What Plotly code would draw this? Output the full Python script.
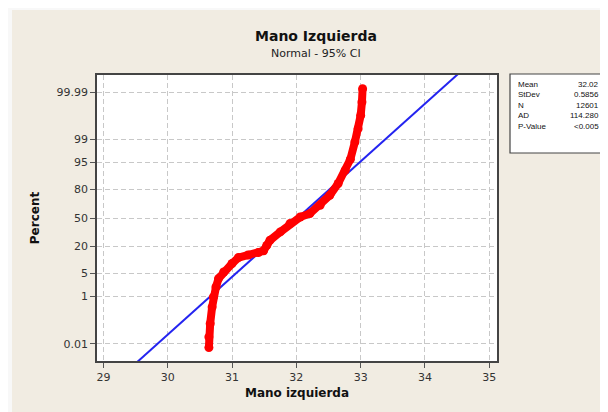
import plotly.graph_objects as go
from statistics import NormalDist

# ---- data ----
sample_x = [30.64, 30.64, 30.66, 30.69, 30.71, 30.75, 30.79, 30.87, 31.00, 31.10,
            31.25, 31.41, 31.49, 31.54, 31.59, 31.75, 31.90, 32.06, 32.21, 32.37,
            32.52, 32.65, 32.76, 32.84, 32.91, 32.96, 33.00, 33.02, 33.03]
sample_pct = [0.0063, 0.0216, 0.089, 0.42, 0.97, 2.06, 3.65, 5.5, 8.9, 12.1,
              13.7, 15.3, 16.6, 20.9, 25.5, 34, 43.4, 51.2, 55.2, 64.6,
              74.9, 84.6, 92.1, 95.9, 98.77, 99.59, 99.88, 99.97, 99.9935]
fit_mean = 32.02
fit_sd = 0.5856
fit_pct = [0.001, 99.999]

y_tick_pct = [0.01, 1, 5, 20, 50, 80, 95, 99, 99.99]
y_tick_text = ["0.01", "1", "5", "20", "50", "80", "95", "99", "99.99"]
x_tick_vals = [29, 30, 31, 32, 33, 34, 35]

stat_labels = ["Mean", "StDev", "N", "AD", "P-Value"]
stat_values = ["32.02", "0.5856", "12601", "114.280", "<0.005"]

nd = NormalDist()
def z(p):
    return nd.inv_cdf(p / 100.0)

sample_z = [z(p) for p in sample_pct]
fit_z = [z(p) for p in fit_pct]
fit_x = [fit_mean + fit_sd * zz for zz in fit_z]

# page body has an 8px margin; figure sits at (8, 8) in the window
OFF = 8
W, H = 600, 404
ML, MR, MT, MB = 89, 111, 67, 51
PW, PH = W - ML - MR, H - MT - MB
def pxx(px):
    return (px - OFF - ML) / PW
def pxy(py):
    return (H - MB - (py - OFF)) / PH

FONT = "DejaVu Sans"
BG = "#F1ECE2"

fig = go.Figure()
fig.add_trace(go.Scatter(x=fit_x, y=fit_z, mode="lines",
                         line=dict(color="#2424F0", width=2),
                         hoverinfo="skip", showlegend=False))
fig.add_trace(go.Scatter(x=sample_x, y=sample_z, mode="lines+markers",
                         line=dict(color="#FF0000", width=8),
                         marker=dict(color="#FF0000", size=9),
                         showlegend=False))

shapes = [
    # light margin strips (top and left)
    dict(type="rect", xref="paper", yref="paper", x0=pxx(0), x1=pxx(700), y0=pxy(10), y1=pxy(0),
         fillcolor="#F8F8F8", line=dict(width=0), layer="above"),
    dict(type="rect", xref="paper", yref="paper", x0=pxx(0), x1=pxx(12), y0=pxy(500), y1=pxy(0),
         fillcolor="#F8F8F8", line=dict(width=0), layer="above"),
    # stats box
    dict(type="rect", xref="paper", yref="paper", x0=pxx(510), x1=pxx(606), y0=pxy(153), y1=pxy(74),
         fillcolor="white", line=dict(color="#444444", width=1.2), layer="above"),
]

annotations = [
    dict(text="<b>Mano Izquierda</b>", xref="paper", yref="paper", x=pxx(316), y=pxy(36),
         showarrow=False, font=dict(family=FONT, size=14, color="#111111"), xanchor="center", yanchor="middle"),
    dict(text="Normal - 95% CI", xref="paper", yref="paper", x=pxx(316), y=pxy(53),
         showarrow=False, font=dict(family=FONT, size=11, color="#222222"), xanchor="center", yanchor="middle"),
]
row_y = [84, 94.5, 105, 115.5, 126]
for lab, val, ry in zip(stat_labels, stat_values, row_y):
    annotations.append(dict(text=lab, xref="paper", yref="paper", x=pxx(516), y=pxy(ry),
                            showarrow=False, xanchor="left", yanchor="middle",
                            font=dict(family="Liberation Sans", size=8, color="#111111")))
    annotations.append(dict(text=val, xref="paper", yref="paper", x=pxx(601), y=pxy(ry),
                            showarrow=False, xanchor="right", yanchor="middle",
                            font=dict(family="Liberation Sans", size=8, color="#111111")))

fig.update_layout(
    width=W, height=H,
    margin=dict(l=ML, r=MR, t=MT, b=MB, pad=0),
    paper_bgcolor=BG, plot_bgcolor="white",
    shapes=shapes, annotations=annotations,
    font=dict(family=FONT, size=11, color="#222222"),
    xaxis=dict(range=[28.9, 35.12], tickvals=x_tick_vals, ticks="outside", ticklen=5,
               tickcolor="#555555", showline=True, mirror=True, linecolor="#444444", linewidth=1.5,
               showgrid=True, gridcolor="#C8C8C8", griddash="5px,3px", gridwidth=1,
               zeroline=False, tickfont=dict(family=FONT, size=11, color="#333333"),
               title=dict(text="<b>Mano izquierda</b>", font=dict(family=FONT, size=12, color="#111111"), standoff=6)),
    yaxis=dict(range=[-4.23, 4.23], tickvals=[z(p) for p in y_tick_pct], ticktext=y_tick_text,
               ticks="outside", ticklen=5, tickcolor="#555555", showline=True, mirror=True,
               linecolor="#444444", linewidth=1.5,
               showgrid=True, gridcolor="#C8C8C8", griddash="5px,3px", gridwidth=1,
               zeroline=False, tickfont=dict(family=FONT, size=11, color="#333333"),
               title=dict(text="<b>Percent</b>", font=dict(family=FONT, size=12, color="#111111"), standoff=14)),
)

fig.write_html("out.html")
